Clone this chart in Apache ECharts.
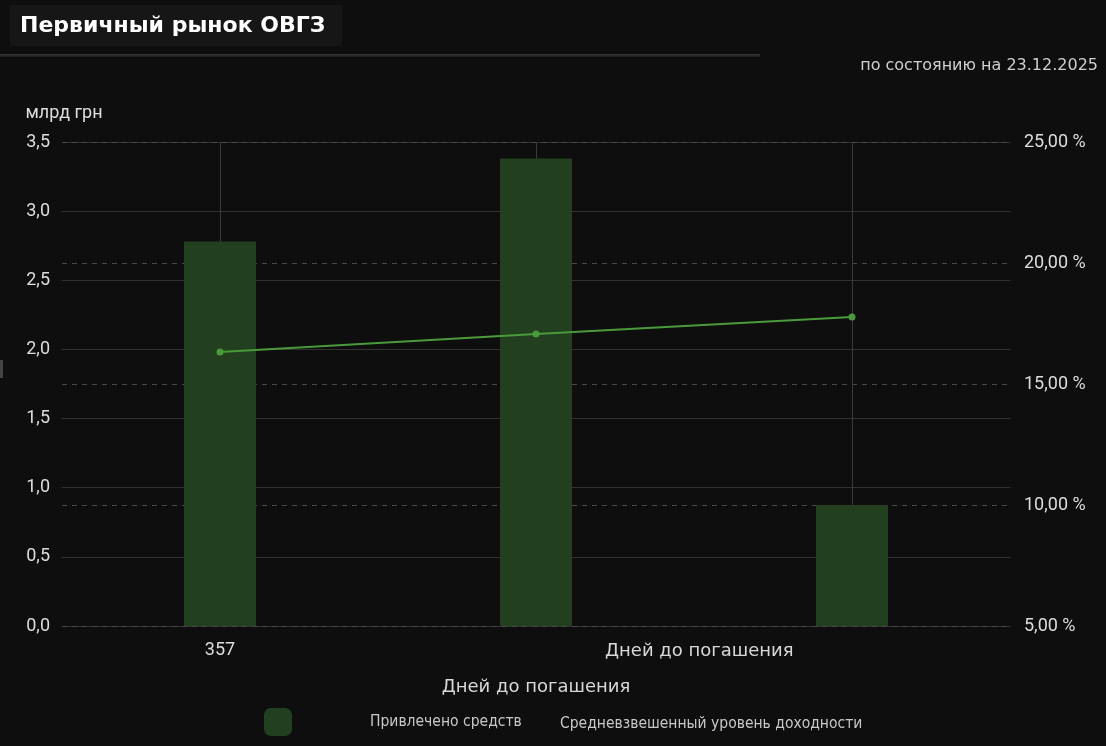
<!DOCTYPE html>
<html><head><meta charset="utf-8">
<script src="https://cdn.jsdelivr.net/npm/echarts@6/dist/echarts.min.js"></script>
<style>html,body{margin:0;padding:0;background:#0e0e0f;}#c{width:1106px;height:746px;}</style>
</head><body><div id="c"></div>
<script>
const categories = ['357', '', ''];
const raised = [2.78, 3.38, 0.875];
const yieldPct = [16.32, 17.07, 17.77];
const leftTicks = [0, 3.5, 0.5];
const rightTicks = [5, 25, 5];
const titleText = 'Первичный рынок ОВГЗ';
const subText = 'по состоянию на 23.12.2025';
const barName = 'Привлечено средств';
const lineName = 'Средневзвешенный уровень доходности';
const xName = 'Дней до погашения';

const chart = echarts.init(document.getElementById('c'), null, {renderer: 'canvas'});
chart.setOption({
  backgroundColor: '#0e0e0f',
  animation: false,
  graphic: [
    {type: 'rect', left: 10, top: 5, shape: {width: 332, height: 41}, style: {fill: '#161617'}, z: 0},
    {type: 'rect', left: 0, top: 54, shape: {width: 760, height: 3},
     style: {fill: new echarts.graphic.LinearGradient(0, 0, 0, 1, [{offset: 0, color: '#3a3a3a'}, {offset: 1, color: '#1a1a1a'}])}},
    {type: 'text', left: 20, top: 15, style: {text: titleText, fill: '#ffffff', font: 'bold 22px "DejaVu Sans"'}},
    {type: 'text', right: 8, top: 58, style: {text: subText, fill: '#cfcfcf', font: '16px "DejaVu Sans"'}},
    {type: 'text', left: 605, top: 642, style: {text: xName, fill: '#d8d8d8', font: '18px "DejaVu Sans"'}},
    {type: 'rect', left: 0, top: 360, shape: {width: 3, height: 18}, style: {fill: '#444'}}
  ],
  legend: [
    {data: [{name: barName, icon: 'roundRect'}], left: 264, top: 708, padding: 0, itemWidth: 28, itemHeight: 28,
     textStyle: {color: '#c8c8c8', fontSize: 15.5, fontFamily: 'DejaVu Sans Condensed', padding: [3, 0, 0, 73]}},
    {data: [{name: lineName, icon: 'none'}], left: 555, top: 716, padding: 0, itemWidth: 0, itemHeight: 0, itemGap: 0,
     textStyle: {color: '#c8c8c8', fontSize: 15.5, fontFamily: 'DejaVu Sans Condensed'}}
  ],
  grid: {left: 62, right: 96, top: 142, bottom: 120, containLabel: false},
  xAxis: {
    type: 'category', data: categories,
    name: xName, nameLocation: 'middle', nameGap: 52,
    nameTextStyle: {color: '#d8d8d8', fontSize: 18, fontFamily: 'DejaVu Sans'},
    axisLine: {show: false}, axisTick: {show: false},
    axisLabel: {color: '#dddddd', fontSize: 18, fontFamily: 'Roboto', margin: 15},
    splitLine: {show: true, alignWithLabel: true, lineStyle: {color: '#3a3a3a', width: 1}}
  },
  yAxis: [
    {type: 'value', min: leftTicks[0], max: leftTicks[1], interval: leftTicks[2],
     name: 'млрд грн', nameLocation: 'end', nameGap: 20,
     nameTextStyle: {color: '#dddddd', fontSize: 18, fontFamily: 'Roboto', align: 'center', padding: [0, 0, 0, 4]},
     axisLine: {show: false}, axisTick: {show: false},
     axisLabel: {color: '#dddddd', fontSize: 18, fontFamily: 'Roboto', margin: 12,
       formatter: v => v.toFixed(1).replace('.', ',')},
     splitLine: {lineStyle: {color: '#333333', width: 1}}},
    {type: 'value', min: rightTicks[0], max: rightTicks[1], interval: rightTicks[2], position: 'right',
     axisLine: {show: false}, axisTick: {show: false},
     axisLabel: {color: '#dddddd', fontSize: 18, fontFamily: 'Roboto', margin: 14,
       formatter: v => v.toFixed(2).replace('.', ',') + ' %'},
     splitLine: {lineStyle: {color: '#4a4a4a', type: [5, 5], width: 1}}}
  ],
  series: [
    {name: barName, type: 'bar', data: raised, yAxisIndex: 0, barWidth: 72,
     itemStyle: {color: '#223f1f'}},
    {name: lineName, type: 'line', data: yieldPct, yAxisIndex: 1, symbol: 'circle', symbolSize: 7,
     lineStyle: {color: '#4a9a3c', width: 2}, itemStyle: {color: '#4a9a3c'}}
  ]
});
</script></body></html>
